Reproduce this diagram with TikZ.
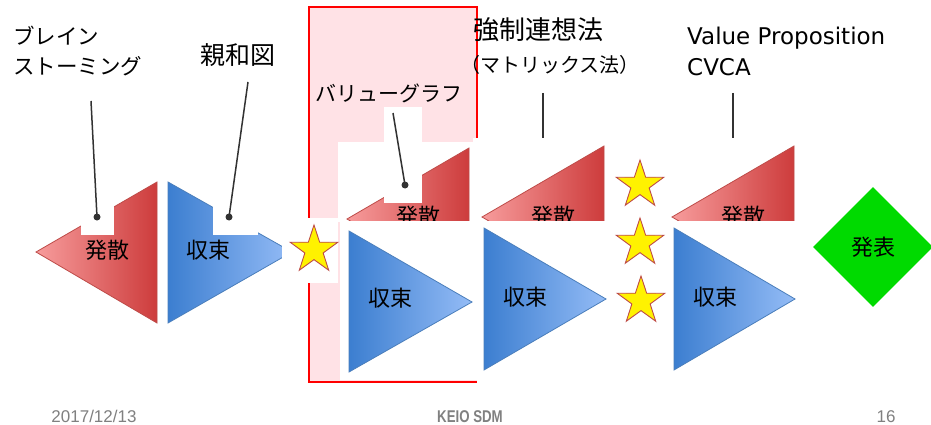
\documentclass[tikz,border=0pt]{standalone}
\usepackage{fontspec}
\setmainfont{Noto Sans CJK JP}
\newfontfamily\latinfont{DejaVu Sans}
\newfontfamily\footfont{Liberation Sans}
\usetikzlibrary{shapes.geometric}
\definecolor{divlight}{RGB}{247,156,156}
\definecolor{divdark}{RGB}{205,60,60}
\definecolor{divedge}{RGB}{190,75,72}
\definecolor{conlight}{RGB}{148,188,246}
\definecolor{condark}{RGB}{60,126,208}
\definecolor{conedge}{RGB}{74,126,187}
\definecolor{vgpink}{RGB}{255,226,230}
\definecolor{presgreen}{RGB}{0,218,0}
\definecolor{leadgray}{RGB}{50,50,50}
\definecolor{footgray}{RGB}{128,128,128}
\begin{document}
\begin{tikzpicture}[x=1pt,y=-1pt,
  diverge/.style={left color=divlight,right color=divdark,draw=divedge,line width=0.8pt},
  converge/.style={left color=condark,right color=conlight,draw=conedge,line width=0.8pt},
  blank/.style={fill=white},
  jp/.style={font=\fontsize{22}{26}\selectfont,inner sep=0pt},
  goldstar/.style={star,star points=5,star point ratio=2.6,minimum size=50pt,inner sep=0pt,fill=yellow,draw=divedge,line width=0.9pt},
  leader/.style={draw=leadgray,line width=1.5pt},
  tipdot/.style={circle,fill=leadgray,inner sep=0pt,minimum size=7pt},
  foot/.style={font=\footfont\fontsize{17}{20}\selectfont,text=footgray,inner sep=0pt,anchor=base}]
  \useasboundingbox[fill=white] (0,0) rectangle (931,425);
  \fill[vgpink] (309,7) rectangle (477,382);
  \draw[red,line width=1.5pt] (309,218) -- (309,7) -- (477,7) -- (477,138);
  \draw[red,line width=1.5pt] (309,283) -- (309,382) -- (477,382);
  \fill[blank] (338,142) rectangle (473,222);
  \fill[blank] (473,138) rectangle (612,222);
  \fill[blank] (665,138) rectangle (800,222);

  \path[diverge] (36,252) -- (157,182) -- (157,323) -- cycle;
  \node[jp] (div1) at (107,250) {発散};
  \path[converge] (168,182) -- (292,252) -- (168,323) -- cycle;
  \node[jp] (con1) at (208,250) {収束};

  \path[diverge] (347,219) -- (469,148) -- (469,290) -- cycle;
  \node[jp] (div2) at (418,216) {発散};
  \path[diverge] (482,217) -- (604,146) -- (604,288) -- cycle;
  \node[jp] (div3) at (553,216) {発散};
  \path[diverge] (672,217) -- (794,146) -- (794,288) -- cycle;
  \node[jp] (div4) at (743,216) {発散};
  \fill[blank] (340,221) rectangle (800,380);

  \path[converge] (349,231) -- (472,302) -- (349,372) -- cycle;
  \node[jp] (con2) at (390,298) {収束};
  \path[converge] (484,228) -- (606,299) -- (484,370) -- cycle;
  \node[jp] (con3) at (525,297) {収束};
  \path[converge] (674,228) -- (795,299) -- (674,370) -- cycle;
  \node[jp] (con4) at (715,297) {収束};

  \fill[blank] (282,218) rectangle (338,283);
  \node[goldstar] (star1) at (314,250) {};
  \node[goldstar] (star2) at (640,185) {};
  \node[goldstar] (star3) at (640,243) {};
  \node[goldstar] (star4) at (641,301) {};

  \node[diamond,aspect=1,minimum width=120pt,minimum height=120pt,inner sep=0pt,fill=presgreen,
    font=\fontsize{22}{26}\selectfont] (pres) at (873,247) {発表};

  \fill[blank] (81,195) rectangle (114,235);
  \fill[blank] (213,195) rectangle (258,235);
  \fill[blank] (384,107) rectangle (422,203);

  \node[jp,anchor=north west,align=left,font=\fontsize{21.5}{30}\selectfont] (brain) at (13,26) {ブレイン\\ストーミング};
  \node[jp,anchor=west,font=\fontsize{25}{30}\selectfont] (affinity) at (200,55) {親和図};
  \node[jp,anchor=west,font=\fontsize{21}{26}\selectfont] (vgraph) at (315,93) {バリューグラフ};
  \node[jp,anchor=west,font=\fontsize{26}{30}\selectfont] (forced) at (473,30) {強制連想法};
  \node[jp,anchor=west,font=\fontsize{20}{24}\selectfont] (matrix) at (460,65) {（マトリックス法）};
  \node[anchor=north west,align=left,inner sep=0pt,font=\latinfont\fontsize{23}{31}\selectfont] (vprop) at (687,27) {Value Proposition\\CVCA};

  \coordinate (brainEnd) at (91,101);
  \coordinate (affEnd) at (248,82);
  \coordinate (vgEnd) at (393,113);
  \coordinate (forcedEnd) at (543,93);
  \coordinate (forcedCut) at (543,138);
  \coordinate (vpropEnd) at (733,93);
  \coordinate (vpropCut) at (733,138);
  \node[tipdot] (brainDot) at (97,217) {};
  \node[tipdot] (affDot) at (229,217) {};
  \node[tipdot] (vgDot) at (405,185) {};
  \draw[leader] (brainEnd) -- (brainDot.center);
  \draw[leader] (affEnd) -- (affDot.center);
  \draw[leader] (vgEnd) -- (vgDot.center);
  \draw[leader] (forcedEnd) -- (forcedCut);
  \draw[leader] (vpropEnd) -- (vpropCut);

  \node[foot] (date) at (94,422) {2017/12/13};
  \node[foot] (org) at (470,422) {\scalebox{0.78}[1]{\bfseries KEIO SDM}};
  \node[foot] (page) at (886,422) {16};
\end{tikzpicture}
\end{document}
